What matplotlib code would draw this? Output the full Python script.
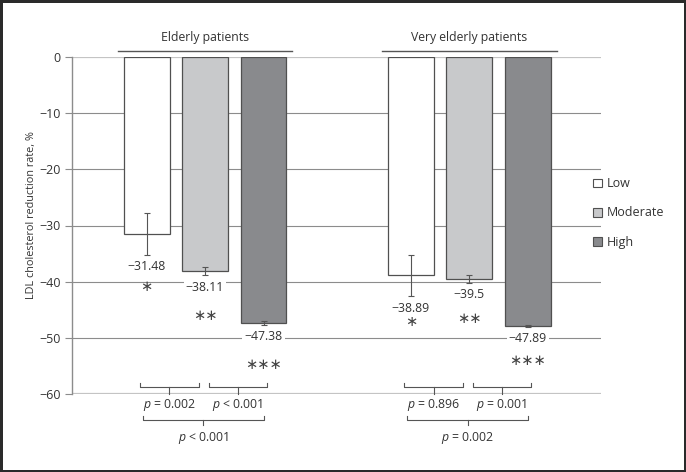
import numpy as np
import matplotlib.pyplot as plt
from matplotlib.patches import Patch

# Données
groups = ['Elderly patients', 'Very elderly patients']
levels = ['Low', 'Moderate', 'High']
means = [[-31.48, -38.11, -47.38],
         [-38.89, -39.5, -47.89]]
errs = [[3.7, 0.75, 0.3],
        [3.7, 0.7, 0.2]]
value_labels = [['\u221231.48', '\u221238.11', '\u221247.38'],
                ['\u221238.89', '\u221239.5', '\u221247.89']]
stars = ['*', '**', '***']
p_pairs = [['$p$ = 0.002', '$p$ < 0.001'], ['$p$ = 0.896', '$p$ = 0.001']]
p_overall = ['$p$ < 0.001', '$p$ = 0.002']

colors = ['#ffffff', '#c8c9cb', '#898a8d']
edge = '#505050'

plt.rcParams['font.family'] = ['Open Sans', 'DejaVu Sans']
plt.rcParams['mathtext.fontset'] = 'custom'
plt.rcParams['mathtext.it'] = 'Open Sans:italic'
plt.rcParams['mathtext.rm'] = 'Open Sans'

fig = plt.figure(figsize=(6.86, 4.72), dpi=100)
fig.patch.set_edgecolor('#2a2a2a')
fig.patch.set_linewidth(2.5)
ax = fig.add_axes([72 / 686, 1 - 394 / 472, 529 / 686, 337 / 472])

group_offset = 4.52
width = 0.786
ax.set_xlim(-1.274, 7.77)
ax.set_ylim(-60, 0)

# Grille
for y in [-10, -20, -30, -40, -50]:
    ax.axhline(y, color='#8c8c8c', lw=0.8, zorder=0)
for y in [0, -60]:
    ax.axhline(y, color='#c4c4c4', lw=1.6, zorder=0)

for g in range(2):
    xs = np.arange(3) + g * group_offset
    for i in range(3):
        ax.bar(xs[i], means[g][i], width=width, align='center', color=colors[i],
               edgecolor=edge, linewidth=0.9, zorder=2)
        ax.errorbar(xs[i], means[g][i], yerr=errs[g][i], fmt='none',
                    ecolor='#555555', elinewidth=0.8, capsize=2.5, capthick=0.8, zorder=3)

    # étiquettes de valeurs
    lab_y = [means[g][i] - errs[g][i] - 2.1 for i in range(3)]
    for i in range(3):
        ax.text(xs[i], lab_y[i], value_labels[g][i], ha='center', va='center',
                fontsize=8.8, color='#333333', zorder=4,
                bbox=dict(facecolor='white', edgecolor='none', pad=1.5))

    # étoiles
    star_y = [[-41.0, -46.2, -55.0], [-47.2, -46.7, -54.3]][g]
    for i in range(3):
        ax.text(xs[i], star_y[i], stars[i].replace('*', '\u2217'), ha='center',
                va='center', fontsize=10.5, color='#444444')

    # titre du groupe
    ax.text(xs[1], 3.5, groups[g], ha='center', va='center', fontsize=8.8,
            color='#333333', clip_on=False)
    ax.plot([xs[0] - 0.49, xs[2] + 0.49], [1.0, 1.0], color='#555555', lw=1,
            clip_on=False)

    # accolades de comparaison
    bk = [(xs[0] - 0.11, xs[1] - 0.11), (xs[1] + 0.06, xs[2] + 0.06)]
    for j, (a, b) in enumerate(bk):
        m = (a + b) / 2
        ax.plot([a, a, b, b], [-58.1, -58.75, -58.75, -58.1], color='#555555',
                lw=0.8, clip_on=False)
        ax.plot([m, m], [-58.75, -60], color='#555555', lw=0.8, clip_on=False)
        ax.text(m, -62.0, p_pairs[g][j], ha='center', va='center', fontsize=8.8,
                color='#333333', clip_on=False)
    a, b = xs[0] - 0.065, xs[2] + 0.01
    m = (a + b) / 2
    ax.plot([a, a, b, b], [-64.0, -64.6, -64.6, -64.0], color='#555555', lw=0.8,
            clip_on=False)
    ax.plot([m, m], [-64.6, -65.6], color='#555555', lw=0.8, clip_on=False)
    ax.text(m, -67.8, p_overall[g], ha='center', va='center', fontsize=8.8,
            color='#333333', clip_on=False)

# Axes
for s in ['top', 'right', 'bottom']:
    ax.spines[s].set_visible(False)
ax.spines['left'].set_color('#8c8c8c')
ax.spines['left'].set_linewidth(1)
ax.set_xticks([])
ax.set_yticks([0, -10, -20, -30, -40, -50, -60])
ax.set_yticklabels(['0', '\u221210', '\u221220', '\u221230', '\u221240', '\u221250', '\u221260'])
ax.tick_params(axis='y', length=5, width=0.8, color='#8c8c8c', labelsize=9,
               labelcolor='#333333', pad=3)
ax.set_ylabel('LDL cholesterol reduction rate, %', fontsize=7.8, color='#333333')
ax.yaxis.set_label_coords(-35 / 529, 1 - (215 - 57) / 337)

handles = [Patch(facecolor=c, edgecolor=edge, linewidth=0.8) for c in colors]
fig.legend(handles, levels, loc='center left', bbox_to_anchor=(582 / 686, 1 - 213 / 472),
           frameon=False, fontsize=9, handlelength=0.7, handleheight=0.7,
           handletextpad=0.4, labelspacing=1.3, labelcolor='#333333')

fig.savefig('out.png', dpi=100)
